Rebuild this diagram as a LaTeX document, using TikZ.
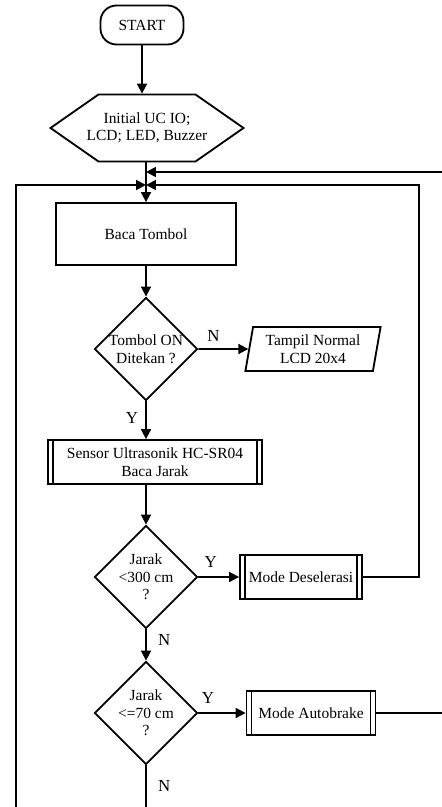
\documentclass[tikz,border=0pt]{standalone}
\usepackage{fontspec}
\setmainfont{Liberation Serif}
\usetikzlibrary{shapes.geometric, arrows.meta, positioning, calc}

\begin{document}
\begin{tikzpicture}[
  x=0.025cm, y=-0.025cm,
  line width=1.3pt,
  font=\fontsize{11}{12.5}\selectfont,
  term/.style={rectangle, draw, rounded corners=0.4cm, minimum width=2.075cm,
               minimum height=0.975cm, align=center},
  prep/.style={rectangle, minimum height=1.675cm, inner sep=0pt, align=center},
  proc/.style={rectangle, draw, minimum width=4.5cm, minimum height=1.55cm, align=center},
  subproc/.style={rectangle, draw, minimum height=1.1cm, align=center, inner sep=2pt,
    append after command={([xshift=0.15cm]\tikzlastnode.north west) edge ([xshift=0.15cm]\tikzlastnode.south west)
      ([xshift=-0.15cm]\tikzlastnode.north east) edge ([xshift=-0.15cm]\tikzlastnode.south east)}},
  decision/.style={diamond, draw, minimum width=2.575cm, minimum height=2.575cm,
                   inner sep=0pt, align=center},
  io/.style={trapezium, trapezium left angle=80, trapezium right angle=100,
             trapezium stretches=true, draw, minimum width=3.4cm, minimum height=1.1cm, align=center},
  arrow/.style={-{Triangle[length=7pt, width=7pt]}},
  lbl/.style={font=\fontsize{12}{14}\selectfont, inner sep=2pt}
]
\useasboundingbox (0,0) rectangle (441,807);

\node[term] (start) at (142,25) {START};
\node[prep] (init) at (147,128) {Initial UC IO;\\LCD; LED, Buzzer};
% hexagon round the init text
\draw ([shift={(-48.5,-33.5)}]init.center) -- ++(97,0) -- ++(48,33.5) -- ++(-48,33.5)
      -- ++(-97,0) -- ++(-48,-33.5) -- cycle;
\node[proc] (baca) at (146,234) {Baca Tombol};
\node[decision] (tombol) at (146,349) {Tombol ON\\Ditekan ?};
\node[io] (tampil) at (313,349) {Tampil Normal\\LCD 20x4};
\node[subproc, minimum width=5.35cm] (sensor) at (155,462) {Sensor Ultrasonik HC-SR04\\Baca Jarak};
\node[decision] (jarak1) at (146,577) {Jarak\\<300 cm\\?};
\node[subproc, minimum width=3.05cm] (desel) at (301,577) {Mode Deselerasi};
\node[decision] (jarak2) at (146,713) {Jarak\\<=70 cm\\?};
\node[subproc, minimum width=3.225cm] (brake) at (311,713) {Mode Autobrake};

\coordinate (in1) at (146,172);
\coordinate (in2) at (146,185);
\coordinate (rB) at (447,172);
\coordinate (rD) at (419,185);
\coordinate (loopL) at (16,812);
\coordinate (down) at (146,812);

% main flow
\draw[arrow] (start) -- (start |- init.north);
\draw[arrow] (baca |- init.south) -- (baca.north);
\draw[arrow] (baca) -- (tombol);
\draw[arrow] (tombol) -- node[lbl, above=3pt, pos=0.3] {N} (tampil);
\draw[arrow] (tombol) -- node[lbl, left=3pt, pos=0.45] {Y} (tombol |- sensor.north);
\draw[arrow] (jarak1 |- sensor.south) -- (jarak1);
\draw[arrow] (jarak1) -- node[lbl, above=4pt, pos=0.3] {Y} (desel);
\draw[arrow] (jarak1) -- node[lbl, right=6pt, pos=0.35] {N} (jarak2);
\draw[arrow] (jarak2) -- node[lbl, above=4pt, pos=0.2] {Y} (brake);
\draw (jarak2) -- node[lbl, right=6pt, pos=0.45] {N} (down);

% loops back
\draw[arrow] (brake.east) -| (rB) -- (in1);
\draw[arrow] (desel.east) -| (rD) -- (in2);
\draw[arrow] (loopL) |- (in2);
\end{tikzpicture}
\end{document}
